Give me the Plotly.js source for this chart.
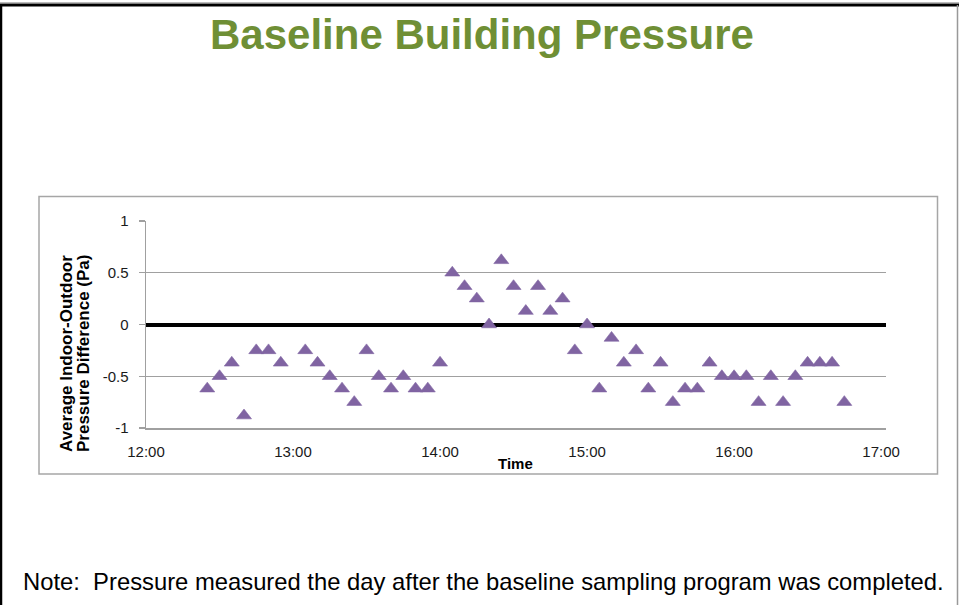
<!DOCTYPE html>
<html><head><meta charset="utf-8">
<script src="https://cdn.plot.ly/plotly-3.0.1.min.js"></script>
<style>html,body{margin:0;padding:0;background:#fff;overflow:hidden}#chart{width:959px;height:605px}</style>
</head><body><div id="chart"></div>
<script>
// ---- data ----
const times = ['12:25','12:30','12:35','12:40','12:45','12:50','12:55',
  '13:05','13:10','13:15','13:20','13:25','13:30','13:35','13:40','13:45','13:50','13:55',
  '14:00','14:05','14:10','14:15','14:20','14:25','14:30','14:35','14:40','14:45','14:50','14:55',
  '15:00','15:05','15:10','15:15','15:20','15:25','15:30','15:35','15:40','15:45','15:50','15:55',
  '16:00','16:05','16:10','16:15','16:20','16:25','16:30','16:35','16:40','16:45'];
const pressure = [-0.62,-0.5,-0.37,-0.88,-0.25,-0.25,-0.37,
  -0.25,-0.37,-0.5,-0.62,-0.75,-0.25,-0.5,-0.62,-0.5,-0.62,-0.62,
  -0.37,0.5,0.37,0.25,0,0.62,0.37,0.13,0.37,0.13,0.25,-0.25,
  0,-0.62,-0.13,-0.37,-0.25,-0.62,-0.37,-0.75,-0.62,-0.62,-0.37,-0.5,
  -0.5,-0.5,-0.75,-0.5,-0.75,-0.5,-0.37,-0.37,-0.37,-0.75];
const xTickLabels = ['12:00','13:00','14:00','15:00','16:00','17:00'];
const yTickVals = [-1,-0.5,0,0.5,1];
const yTickText = ['-1','-0.5','0','0.5','1'];
const chartTitle = 'Baseline Building Pressure';
const xTitle = 'Time';
const yTitleLines = ['Average Indoor-Outdoor','Pressure Difference (Pa)'];
const noteText = 'Note:  Pressure measured the day after the baseline sampling program was completed.';

// ---- layout helpers ----
const DAY = '2013-06-04 ';
const W = 959, H = 605, L = 146, R = 73, T = 221, B = 177;
const px = x => (x - L) / (W - L - R);
const py = y => (H - B - y) / (H - T - B);
const FONT = '"Liberation Sans", Arial, sans-serif';

const trace = {
  type: 'scatter', mode: 'markers',
  x: times.map(t => DAY + t), y: pressure,
  marker: {symbol: 'triangle-up', size: 13, color: '#8064A2', line: {width: 0.6, color: '#8064A2'}},
  hoverinfo: 'x+y', showlegend: false
};

const line = (x0, y0, x1, y1, color, width) => ({
  type: 'line', xref: 'paper', yref: 'paper',
  x0: px(x0), y0: py(y0), x1: px(x1), y1: py(y1),
  line: {color: color, width: width}
});

const ann = (text, x, y, size, opts) => Object.assign({
  text: text, xref: 'paper', yref: 'paper', x: px(x), y: py(y),
  xanchor: 'center', yanchor: 'middle', showarrow: false,
  font: {family: FONT, size: size, color: '#000'}
}, opts || {});

const layout = {
  width: W, height: H,
  margin: {l: L, r: R, t: T, b: B, pad: 0},
  paper_bgcolor: '#fff', plot_bgcolor: '#fff',
  font: {family: FONT, color: '#1a1a1a'},
  xaxis: {
    type: 'date',
    range: [DAY + '12:00', DAY + '17:02'],
    tickvals: xTickLabels.map(t => DAY + t), ticktext: xTickLabels,
    ticks: '', showgrid: false, zeroline: false,
    showline: true, linecolor: '#a0a0a0', linewidth: 1.5,
    tickfont: {size: 15, color: '#1a1a1a'}, ticklabelstandoff: 9
  },
  yaxis: {
    range: [-1, 1], tickvals: yTickVals, ticktext: yTickText,
    ticks: 'outside', ticklen: 6, tickcolor: '#a0a0a0', tickwidth: 1.2,
    showgrid: true, gridcolor: '#a0a0a0', gridwidth: 1.2,
    zeroline: true, zerolinecolor: '#000', zerolinewidth: 4,
    showline: true, linecolor: '#a0a0a0', linewidth: 1.5,
    tickfont: {size: 15, color: '#1a1a1a'}, ticklabelstandoff: 7
  },
  shapes: [
    line(0, 2.5, 959, 2.5, '#bbbbbb', 1),
    line(0, 5, 959, 5, '#000', 3),
    line(1, 4, 1, 605, '#000', 2.5),
    line(957.5, 5, 957.5, 605, '#999', 1.5),
    {type: 'rect', xref: 'paper', yref: 'paper', x0: px(39), x1: px(937.5), y0: py(474), y1: py(196.5),
     line: {color: '#a6a6a6', width: 1.5}, fillcolor: 'rgba(0,0,0,0)'}
  ],
  annotations: [
    ann('<b>' + chartTitle + '</b>', 481.5, 34, 42, {font: {family: FONT, size: 42, color: '#6F8F35'}}),
    ann('<b>' + xTitle + '</b>', 515, 463, 15),
    ann('<b>' + yTitleLines[0] + '</b>', 66, 354, 17, {textangle: -90}),
    ann('<b>' + yTitleLines[1] + '</b>', 83, 354, 17, {textangle: -90}),
    ann(noteText, 21, 581, 23.8, {xanchor: 'left'})
  ]
};

Plotly.newPlot('chart', [trace], layout, {displayModeBar: false, staticPlot: true});
</script>
</body></html>
